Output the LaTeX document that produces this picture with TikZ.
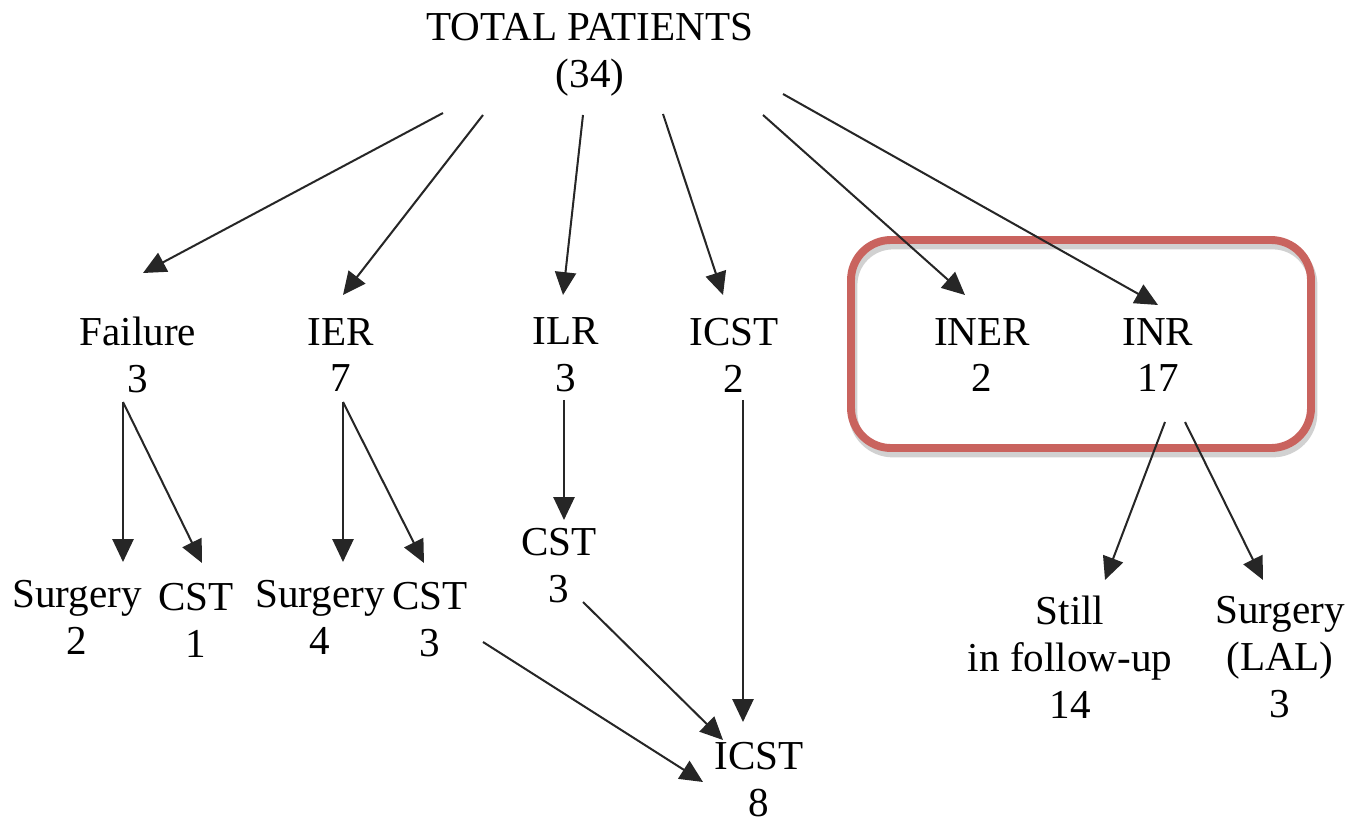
\documentclass[tikz,border=0pt]{standalone}
\usepackage{fontspec}
\setmainfont{Liberation Serif}
\usetikzlibrary{arrows.meta,calc}
\definecolor{boxred}{RGB}{201,99,94}
\begin{document}
\begin{tikzpicture}[x=0.02cm, y=-0.02cm,
    lbl/.style={align=center, inner sep=0pt, font=\fontsize{23.4}{26.7}\selectfont},
    arr/.style={-{Triangle[length=13pt,width=12pt]}, line width=1.15pt, black!85}]
  \useasboundingbox (0,0) rectangle (1350,824);
  % Highlight box (shadow, then outline)
  \draw[black!18, line width=5pt, rounded corners=0.8cm] (853,245) rectangle (1313,453);
  \draw[boxred, line width=4.5pt, rounded corners=0.8cm] (851,240) rectangle (1311,448);
  % Top node
  \node[lbl] (total) at (590,55) {TOTAL PATIENTS\\(34)};
  % First level
  \node[lbl] (fail) at (138,355) {Failure\\3};
  \node[lbl] (ier) at (341,355) {IER\\7};
  \node[lbl] (ilr) at (566,355) {ILR\\3};
  \node[lbl] (icstA) at (734,355) {ICST\\2};
  \node[lbl] (iner) at (982,355) {INER\\2};
  \node[lbl] (inr) at (1158,355) {INR\\17};
  % Second level
  \node[lbl] (surgA) at (77,617) {Surgery\\2};
  \node[lbl] (cstA) at (196,620) {CST\\1};
  \node[lbl] (surgB) at (320,617) {Surgery\\4};
  \node[lbl] (cstB) at (430,620) {CST\\3};
  \node[lbl] (cstC) at (559,566) {CST\\3};
  \node[lbl] (icstB) at (759,780) {ICST\\8};
  \node[lbl] (still) at (1070,657) {Still\\in follow-up\\14};
  \node[lbl] (lal) at (1280,657) {Surgery\\(LAL)\\3};
  % Arrows from total
  \draw[arr] ($(total)+(-147,58)$) -- ($(fail)+(5,-82)$);
  \draw[arr] ($(total)+(-107,60)$) -- ($(ier)+(2,-60)$);
  \draw[arr] ($(total)+(-7,60)$) -- ($(ilr)+(-3,-60)$);
  \draw[arr] ($(total)+(73,59)$) -- ($(icstA)+(-11,-60)$);
  \draw[arr] ($(total)+(173,60)$) -- ($(iner)+(-17,-60)$);
  \draw[arr] ($(total)+(193,39)$) -- ($(inr)+(0,-50)$);
  % Arrows to second level
  \draw[arr] ($(fail)+(-15,47)$) -- ($(surgA)+(46,-55)$);
  \draw[arr] ($(fail)+(-15,47)$) -- ($(cstA)+(6,-57)$);
  \draw[arr] ($(ier)+(2,47)$) -- ($(surgB)+(23,-55)$);
  \draw[arr] ($(ier)+(2,47)$) -- ($(cstB)+(-6,-57)$);
  \draw[arr] ($(ilr)+(-2,45)$) -- ($(cstC)+(5,-46)$);
  \draw[arr] ($(inr)+(7,67)$) -- ($(still)+(35,-77)$);
  \draw[arr] ($(inr)+(27,67)$) -- ($(lal)+(-17,-77)$);
  % Arrows into ICST 8
  \draw[arr] ($(icstA)+(9,45)$) -- ($(icstB)+(-16,-58)$);
  \draw[arr] ($(cstC)+(24,36)$) -- ($(icstB)+(-36,-40)$);
  \draw[arr] ($(cstB)+(53,22)$) -- ($(icstB)+(-56,2)$);
\end{tikzpicture}
\end{document}
